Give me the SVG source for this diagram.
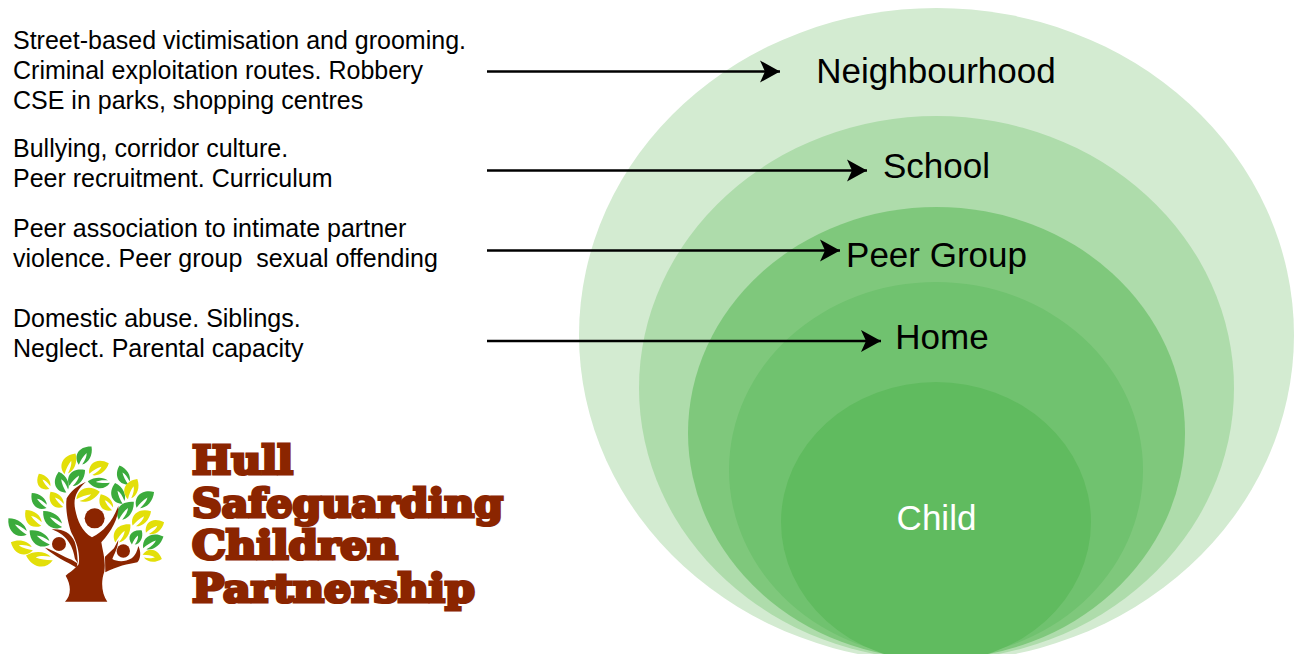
<svg xmlns="http://www.w3.org/2000/svg" xmlns:xlink="http://www.w3.org/1999/xlink" width="1298" height="654" viewBox="0 0 1298 654">
<style>
text{font-family:"Liberation Sans",Arial,sans-serif;fill:#000}
.d{font-size:25px}
.l{font-size:35px}
.c{stroke:#000;stroke-width:2.6;fill:none;marker-end:url(#a)}
.g{fill:#3bab3c}.y{fill:#e3df09}
.t{fill:#8b2500}
.h{font-family:"DejaVu Serif",serif;font-weight:bold;font-size:39px;fill:#8b2500;stroke:#8b2500;stroke-width:3.2;paint-order:stroke}
</style>
<defs>
<marker id="a" markerUnits="userSpaceOnUse" markerWidth="22" markerHeight="24" refX="20" refY="12" orient="auto"><path d="M0,1L20,12L0,23L5,12Z" fill="#000"/></marker>
<path id="f" d="M-3,0C10,-30 48,-32 71,0C50,19 20,21 4,8C22,8 36,5 44,-1C30,-4 12,-3 -3,0Z"/>
</defs>
<g id="neighbourhood"><ellipse cx="936.5" cy="335" rx="357.5" ry="327" fill="#d3ebd1"/><text class="l" x="936" y="83" text-anchor="middle">Neighbourhood</text></g>
<g id="school"><ellipse cx="936.5" cy="388" rx="297.5" ry="272" fill="#aedcab"/><text class="l" x="936.5" y="178" text-anchor="middle">School</text></g>
<g id="peer-group"><ellipse cx="936.5" cy="433" rx="248.5" ry="226" fill="#7fc87c"/><text class="l" x="936.5" y="267" text-anchor="middle">Peer Group</text></g>
<g id="home"><ellipse cx="936" cy="470" rx="207" ry="188" fill="#70c26f"/><text class="l" x="942" y="349" text-anchor="middle">Home</text></g>
<g id="child"><ellipse cx="936" cy="522" rx="155" ry="140" fill="#60bb5f"/><text class="l" x="936.500" y="530" text-anchor="middle" style="fill:#fff">Child</text></g>
<g id="text-neighbourhood"><text class="d" x="13" y="49">Street-based victimisation and grooming.</text><text class="d" x="13" y="79">Criminal exploitation routes. Robbery</text><text class="d" x="13" y="109">CSE in parks, shopping centres</text></g>
<g id="text-school"><text class="d" x="13" y="157">Bullying, corridor culture.</text><text class="d" x="13" y="187">Peer recruitment. Curriculum</text></g>
<g id="text-peer"><text class="d" x="13" y="237">Peer association to intimate partner</text><text class="d" x="13" y="267" xml:space="preserve">violence. Peer group  sexual offending</text></g>
<g id="text-home"><text class="d" x="13" y="327">Domestic abuse. Siblings.</text><text class="d" x="13" y="357">Neglect. Parental capacity</text></g>
<g id="connectors">
<path class="c" d="M487,71.500H780"/>
<path class="c" d="M487,170.500H867"/>
<path class="c" d="M487,250.500H840"/>
<path class="c" d="M487,341H881"/>
</g>
<g id="logo">
<g transform="translate(0,435) scale(.3333)">
<g class="g">
<use xlink:href="#f" transform="translate(78,297) rotate(-138)"/>
<use xlink:href="#f" transform="translate(147,327) rotate(-145)"/>
<use xlink:href="#f" transform="translate(184,274) rotate(-140)"/>
<use xlink:href="#f" transform="translate(138,217) rotate(-135) scale(.85,.9)"/>
<use xlink:href="#f" transform="translate(198,170) rotate(-110) scale(.9,1)"/>
<use xlink:href="#f" transform="translate(210,150) rotate(-45) scale(.9,1)"/>
<use xlink:href="#f" transform="translate(238,87) rotate(-55) scale(.9,1)"/>
<use xlink:href="#f" transform="translate(327,143) rotate(-176) scale(.9,.8)"/>
<use xlink:href="#f" transform="translate(384,146) rotate(-115) scale(.85,.9)"/>
<use xlink:href="#f" transform="translate(367,204) rotate(-110) scale(.9,1)"/>
<use xlink:href="#f" transform="translate(412,216) rotate(-42) scale(.95,1)"/>
<use xlink:href="#f" transform="translate(358,252) rotate(-50) scale(.95,1)"/>
<use xlink:href="#f" transform="translate(397,327) rotate(-55) scale(.7,.9)"/>
<use xlink:href="#f" transform="translate(432,338) rotate(-30) scale(.95,1)"/>
</g>
<g class="y">
<use xlink:href="#f" transform="translate(96,345) rotate(-160) scale(.95,1)"/>
<use xlink:href="#f" transform="translate(155,375) rotate(-170) scale(1.1,1.1)"/>
<use xlink:href="#f" transform="translate(122,270) rotate(-135) scale(.9,1)"/>
<use xlink:href="#f" transform="translate(188,214) rotate(-130) scale(.8,.9)"/>
<use xlink:href="#f" transform="translate(147,160) rotate(-125) scale(.75,.9)"/>
<use xlink:href="#f" transform="translate(195,115) rotate(-62) scale(.95,1)"/>
<use xlink:href="#f" transform="translate(270,115) rotate(-28) scale(.9,1)"/>
<use xlink:href="#f" transform="translate(232,192) rotate(-18)"/>
<use xlink:href="#f" transform="translate(335,224) rotate(-125) scale(.8,.9)"/>
<use xlink:href="#f" transform="translate(385,190) rotate(-65) scale(.9,1)"/>
<use xlink:href="#f" transform="translate(400,270) rotate(-38) scale(.95,1)"/>
<use xlink:href="#f" transform="translate(348,320) rotate(-50) scale(.95,1)"/>
<use xlink:href="#f" transform="translate(440,292) rotate(-30) scale(.85,1)"/>
<use xlink:href="#f" transform="translate(430,360) rotate(12) scale(.8,.9)"/>
</g>
<g class="t">
<circle cx="284" cy="250" r="30"/><circle cx="177" cy="327" r="21"/><circle cx="370" cy="348" r="20"/>
<path d="M195,500C214,482 214,450 197,422C205,415 222,405 236,388C240,365 235,330 215,295C205,270 195,220 200,190C210,170 235,150 258,140C230,165 218,190 226,225C232,255 245,290 276,307C312,290 340,255 355,212C357,245 338,285 304,322C308,350 318,375 313,410C302,440 305,475 322,500Z"/>
<path d="M135,338C160,345 190,365 215,374L232,385L230,398C200,380 165,365 135,338Z"/>
<path d="M155,283C185,280 212,292 224,320C232,345 232,365 234,385L225,372C220,340 205,300 155,283Z"/>
<path d="M315,365L342,340L355,315C354,340 342,358 337,372C350,380 375,382 395,370C408,360 412,345 415,333C424,350 422,372 412,382C385,387 350,394 316,412Z"/>
</g>
</g>
<text class="h" x="192" y="474" textLength="101" lengthAdjust="spacingAndGlyphs">Hull</text>
<text class="h" x="192" y="517" textLength="311" lengthAdjust="spacingAndGlyphs">Safeguarding</text>
<text class="h" x="192" y="559" textLength="206" lengthAdjust="spacingAndGlyphs">Children</text>
<text class="h" x="192" y="602" textLength="283" lengthAdjust="spacingAndGlyphs">Partnership</text>
</g>
</svg>
